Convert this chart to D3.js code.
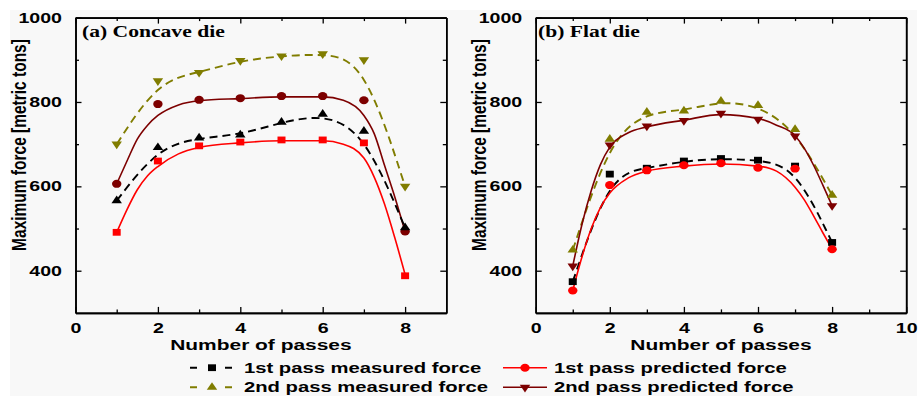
<!DOCTYPE html>
<html>
<head>
<meta charset="utf-8">
<script src="https://cdn.jsdelivr.net/npm/d3@7"></script>
<style>
    body { margin: 0; background: #fff; }
    svg text { font-family: "Liberation Sans", Arial, sans-serif; font-weight: bold; fill: #000; }
</style>
</head>
<body>
<div id="chart"></div>
<script>

// values
const passes = [1, 2, 3, 4, 5, 6, 7, 8];

// (a) concave die
const concaveMeasured1 = [566, 692, 715, 722, 752, 771, 731, 502];
const concavePredicted1 = [491, 660, 696, 705, 710, 710, 703, 388];
const concaveMeasured2 = [700, 850, 870, 898, 909, 914, 900, 600];
const concavePredicted2 = [606, 795, 805, 809, 814, 814, 804, 493];

// (b) flat die
const flatMeasured1 = [374, 629, 643, 660, 666, 662, 648, 467];
const flatPredicted1 = [353, 603, 638, 650, 655, 644, 642, 451];
const flatMeasured2 = [449, 712, 776, 779, 802, 792, 735, 579];
const flatPredicted2 = [411, 698, 743, 756, 773, 759, 719, 554];

// fitted (solid) curves, sampled along the pass axis
const fitX = [1, 1.25, 1.5, 1.75, 2, 2.5, 3, 4, 5, 6, 6.5, 7, 7.25, 7.5, 7.75, 8];
const concaveFit1 = [491, 545, 592, 625, 647, 677, 692, 703, 708, 708, 700, 667, 622, 558, 478, 391];
const concaveFit2 = [606, 660, 712, 745, 768, 793, 803, 808, 812, 812, 804, 768, 725, 650, 575, 493];
const flatFit1 = [353, 433, 500, 550, 584, 620, 636, 648, 653, 648, 636, 598, 568, 530, 490, 451];
const flatFit2 = [411, 510, 590, 652, 693, 727, 741, 757, 770, 761, 745, 720, 690, 650, 603, 554];

const yTicks = [400, 600, 800, 1000];
const yMinor = [500, 700, 900];
const legendLabels = ["1st pass measured force", "1st pass predicted force",
                      "2nd pass measured force", "2nd pass predicted force"];

const COLORS = {black: "#000000", red: "#ff0000", olive: "#807d00", dark: "#7d0000"};
const S = 1.35;   // the figure is stretched horizontally

const svg = d3.select("#chart").append("svg")
    .attr("width", 921)
    .attr("height", 396);

svg.append("rect")
    .attr("x", 10).attr("y", 10)
    .attr("width", 907).attr("height", 386)
    .attr("fill", "#f8f8f8");

function stretchText(parent, x, y, str, size, anchor) {
    return parent.append("text")
        .attr("transform", `translate(${x},${y}) scale(${S},1)`)
        .attr("font-size", size)
        .attr("text-anchor", anchor)
        .text(str);
}

function drawMarker(parent, kind, x, y, color) {
    let type = d3.symbolCircle, size = 50, rot = "";
    if (kind == "square") { type = d3.symbolSquare; size = 46; }
    if (kind == "up") { type = d3.symbolTriangle; size = 34; }
    if (kind == "down") { type = d3.symbolTriangle; size = 34; rot = " rotate(180)"; }
    parent.append("path")
        .attr("d", d3.symbol().type(type).size(size)())
        .attr("transform", `translate(${x},${y}) scale(1.18,1)${rot}`)
        .attr("fill", color);
}


class Panel {

    constructor(config) {
        this.config = config;
        this.initVis();
    }

    initVis() {
        let vis = this;
        let c = vis.config;

        vis.g = svg.append("g");

        vis.x = d3.scaleLinear().domain(c.xDomain).range([c.left, c.right]);
        vis.y = d3.scaleLinear().domain([300, 1000]).range([312.9, 17.6]);

        vis.drawAxes();
        vis.updateVis();
    }

    drawAxes() {
        let vis = this;
        let c = vis.config;
        let top = vis.y.range()[1], bottom = vis.y.range()[0];

        let axes = [
            {axis: d3.axisBottom(vis.x).tickValues(c.xMajor), tr: `translate(0,${bottom})`, label: true},
            {axis: d3.axisBottom(vis.x).tickValues(c.xMinor).tickSize(-3.5), tr: `translate(0,${bottom})`},
            {axis: d3.axisTop(vis.x).tickValues(c.xMajor), tr: `translate(0,${top})`},
            {axis: d3.axisTop(vis.x).tickValues(c.xMinor).tickSize(-3.5), tr: `translate(0,${top})`},
            {axis: d3.axisLeft(vis.y).tickValues(yTicks), tr: `translate(${c.left},0)`, label: true},
            {axis: d3.axisLeft(vis.y).tickValues(yMinor).tickSize(-3.5), tr: `translate(${c.left},0)`},
            {axis: d3.axisRight(vis.y).tickValues(yTicks), tr: `translate(${c.right},0)`},
            {axis: d3.axisRight(vis.y).tickValues(yMinor).tickSize(-3.5), tr: `translate(${c.right},0)`}
        ];

        axes.forEach(a => {
            if (a.axis.tickSize() == 6) a.axis.tickSize(-6);
            a.axis.tickSizeOuter(0).tickPadding(10);
            a.axis.tickFormat(a.label ? d3.format("d") : "");
            let ax = vis.g.append("g")
                .attr("transform", a.tr)
                .call(a.axis);
            ax.select(".domain").attr("stroke-width", 1.6);
            ax.selectAll(".tick line").attr("stroke-width", 1.3);
            ax.selectAll("text")
                .attr("font-family", null)
                .attr("font-size", 14.5)
                .attr("transform", `scale(${S},1)`);
        });

        // y labels need their offset undone by the stretch
        vis.g.selectAll("text")
            .filter(function() { return d3.select(this).attr("text-anchor") == "end"; })
            .attr("x", -11 / S);

        stretchText(vis.g, (c.left + c.right) / 2, 350, "Number of passes", 15.5, "middle");

        vis.g.append("text")
            .attr("transform", `translate(${c.left - 50},145) scale(1.3,1) rotate(-90)`)
            .attr("font-size", 15.5)
            .attr("text-anchor", "middle")
            .text("Maximum force [metric tons]");

        stretchText(vis.g, c.labelX, 37, c.label, 16, "start")
            .style("font-family", "'Liberation Serif', 'Times New Roman', serif");
    }

    updateVis() {
        let vis = this;
        let c = vis.config;

        let measuredLine = d3.line()
            .x((d, i) => vis.x(passes[i]))
            .y(d => vis.y(d))
            .curve(d3.curveBasis);

        let fitLine = d3.line()
            .x((d, i) => vis.x(fitX[i]))
            .y(d => vis.y(d))
            .curve(d3.curveMonotoneX);

        c.series.forEach(s => {
            vis.g.append("path")
                .attr("d", s.fit ? fitLine(s.fit) : measuredLine(s.values))
                .attr("fill", "none")
                .attr("stroke", s.color)
                .attr("stroke-width", s.fit ? 1.6 : 1.9)
                .attr("stroke-dasharray", s.fit ? null : "8,5");
        });

        c.series.forEach(s => {
            s.values.forEach((v, i) => drawMarker(vis.g, s.marker, vis.x(passes[i]), vis.y(v), s.color));
        });
    }
}


new Panel({
    left: 75.5, right: 446.3,
    xDomain: [0, 9], xMajor: [0, 2, 4, 6, 8], xMinor: [1, 3, 5, 7],
    label: "(a) Concave die", labelX: 82,
    series: [
        {values: concaveMeasured2, color: COLORS.olive, marker: "down"},
        {values: concavePredicted2, fit: concaveFit2, color: COLORS.dark, marker: "circle"},
        {values: concaveMeasured1, color: COLORS.black, marker: "up"},
        {values: concavePredicted1, fit: concaveFit1, color: COLORS.red, marker: "square"}
    ]
});

new Panel({
    left: 535.7, right: 906.2,
    xDomain: [0, 10], xMajor: [0, 2, 4, 6, 8, 10], xMinor: [1, 3, 5, 7, 9],
    label: "(b) Flat die", labelX: 538,
    series: [
        {values: flatMeasured2, color: COLORS.olive, marker: "up"},
        {values: flatPredicted2, fit: flatFit2, color: COLORS.dark, marker: "down"},
        {values: flatMeasured1, color: COLORS.black, marker: "square"},
        {values: flatPredicted1, fit: flatFit1, color: COLORS.red, marker: "circle"}
    ]
});

// legend
let legend = svg.append("g");
let legendItems = [
    {color: COLORS.black, marker: "square", dashed: true},
    {color: COLORS.red, marker: "circle", dashed: false},
    {color: COLORS.olive, marker: "up", dashed: true},
    {color: COLORS.dark, marker: "down", dashed: false}
];
let colX = [190, 503], colEnd = [232, 547], markX = [212, 525], textX = [244, 554];
let rowY = [367.7, 387.3];

legendItems.forEach((d, i) => {
    let col = i % 2, row = Math.floor(i / 2);
    legend.append("line")
        .attr("x1", colX[col]).attr("x2", colEnd[col])
        .attr("y1", rowY[row]).attr("y2", rowY[row])
        .attr("stroke", d.color)
        .attr("stroke-width", d.dashed ? 1.9 : 1.6)
        .attr("stroke-dasharray", d.dashed ? "7,28" : null);
    drawMarker(legend, d.marker, markX[col], rowY[row], d.color);
    stretchText(legend, textX[col], rowY[row] + 5, legendLabels[i], 15, "start");
});

</script>
</body>
</html>
